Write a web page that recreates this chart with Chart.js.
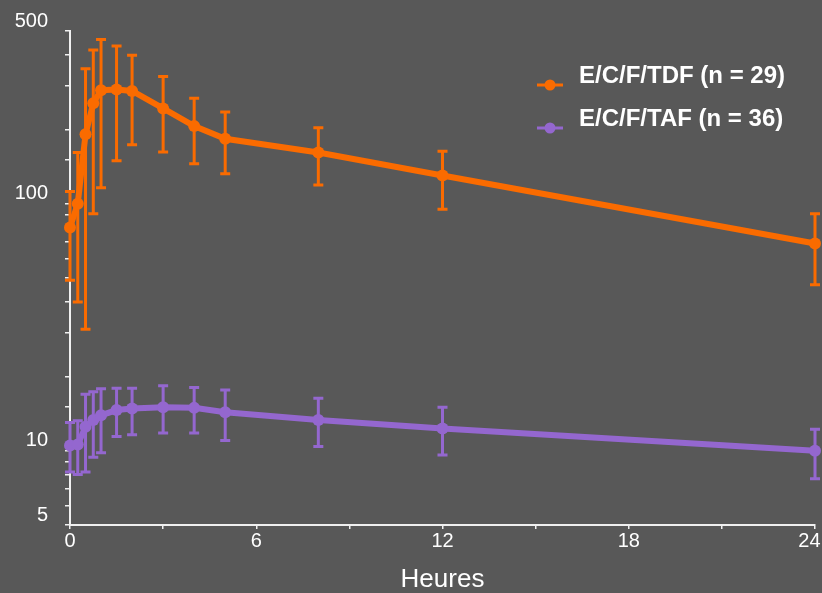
<!DOCTYPE html>
<html>
<head>
<meta charset="utf-8">
<script src="https://cdn.jsdelivr.net/npm/chart.js@4"></script>
<style>
  body { margin:0; background:#585858; }
  #wrap { width:822px; height:593px; position:relative; }
</style>
</head>
<body>
<div id="wrap"><canvas id="myChart"></canvas></div>
<script>
// sampling times (hours)
const hours = [0, 0.25, 0.5, 0.75, 1, 1.5, 2, 3, 4, 5, 8, 12, 24];

// E/C/F/TDF mean and error bar ends
const tdfMean = [80, 100, 191, 255, 288, 290, 286, 243, 206, 183, 161, 130, 69];
const tdfHigh = [112, 161, 352, 419, 462, 435, 399, 327, 267, 235, 203, 163, 91];
const tdfLow  = [49, 40, 31, 91, 116, 149, 173, 162, 145, 132, 119, 95, 47];

// E/C/F/TAF mean and error bar ends
const tafMean = [10.5, 10.6, 12.5, 13.3, 13.9, 14.6, 14.8, 15.0, 14.9, 14.3, 13.3, 12.3, 10.0];
const tafHigh = [13.0, 13.2, 16.9, 17.3, 17.8, 17.9, 17.9, 18.3, 18.0, 17.6, 16.3, 15.0, 12.2];
const tafLow  = [8.2, 8.0, 8.2, 9.4, 9.8, 11.4, 11.6, 11.8, 11.8, 11.0, 10.4, 9.6, 7.7];

const seriesLabels = ['E/C/F/TDF (n = 29)', 'E/C/F/TAF (n = 36)'];
const yLabels = [5, 10, 100, 500];   // only these get a label
const xLabels = [0, 6, 12, 18, 24];

const orange = '#fa6b00';
const purple = '#9467cf';

const lows = [tdfLow, tafLow];
const highs = [tdfHigh, tafHigh];

// small legend marker: line with a dot, drawn a bit under the text
function makeMarker(color) {
    const c = document.createElement('canvas');
    c.width = 28; c.height = 40;
    const g = c.getContext('2d');
    g.strokeStyle = color; g.fillStyle = color; g.lineWidth = 3;
    g.beginPath(); g.moveTo(1, 29); g.lineTo(27, 29); g.stroke();
    g.beginPath(); g.arc(14, 29, 5.5, 0, Math.PI * 2); g.fill();
    return c;
}

// vertical error bars with caps
const errorBars = {
    id: 'errorBars',
    beforeDatasetsDraw(chart) {
        const c = chart.ctx;
        const x = chart.scales.x, y = chart.scales.y;
        chart.data.datasets.forEach((ds, i) => {
            c.save();
            c.strokeStyle = ds.borderColor;
            c.lineWidth = 3;
            hours.forEach((h, j) => {
                const px = x.getPixelForValue(h);
                const lo = y.getPixelForValue(lows[i][j]);
                const hi = y.getPixelForValue(highs[i][j]);
                c.beginPath();
                c.moveTo(px, lo); c.lineTo(px, hi);
                c.moveTo(px - 5, lo); c.lineTo(px + 5, lo);
                c.moveTo(px - 5, hi); c.lineTo(px + 5, hi);
                c.stroke();
            });
            c.restore();
        });
    }
};

// move the legend box into the upper right of the plot
const legendPlace = {
    id: 'legendPlace',
    afterLayout(chart) {
        const lg = chart.legend;
        const w = lg.width;
        lg.left = 514; lg.right = lg.left + w;
        lg.top = 45;
    }
};

Chart.defaults.font.family = '"Liberation Sans", Arial, sans-serif';
Chart.defaults.color = '#ffffff';

const ctx = document.getElementById('myChart').getContext('2d');

const myChart = new Chart(ctx, {
    type: 'line',
    data: {
        datasets: [{
            label: seriesLabels[0],
            data: hours.map((h, i) => ({x: h, y: tdfMean[i]})),
            borderColor: orange,
            backgroundColor: orange,
            borderWidth: 6,
            pointRadius: 6,
            pointBorderWidth: 0,
            pointHoverRadius: 6,
            tension: 0,
            clip: false
        }, {
            label: seriesLabels[1],
            data: hours.map((h, i) => ({x: h, y: tafMean[i]})),
            borderColor: purple,
            backgroundColor: purple,
            borderWidth: 6,
            pointRadius: 6,
            pointBorderWidth: 0,
            pointHoverRadius: 6,
            tension: 0,
            clip: false
        }]
    },
    options: {
        responsive: true,
        maintainAspectRatio: false,
        animation: false,
        layout: { autoPadding: false, padding: { top: 31, right: 7, left: 0, bottom: 0 } },
        scales: {
            x: {
                type: 'linear',
                min: 0, max: 24,
                border: { color: '#f0f0f0', width: 2 },
                grid: { drawOnChartArea: false, color: '#f0f0f0', tickLength: 4, lineWidth: 1.5 },
                ticks: {
                    stepSize: 3,
                    autoSkip: false,
                    maxRotation: 0,
                    padding: 0,
                    font: { size: 20 },
                    // last label pulled in so it stays inside the page
                    callback: v => !xLabels.includes(v) ? '' : (v === 24 ? '24  ' : String(v))
                },
                title: {
                    display: true,
                    text: 'Heures',
                    font: { size: 26, lineHeight: 1 },
                    padding: { top: 0, bottom: 0 }
                },
                afterFit(scale) {
                    scale.height = 68;
                    scale.paddingLeft = 0;
                    scale.paddingRight = 0;
                }
            },
            y: {
                type: 'logarithmic',
                min: 5, max: 500,
                border: { color: '#f0f0f0', width: 2 },
                grid: { drawOnChartArea: false, color: '#f0f0f0', tickLength: 5, lineWidth: 1.5 },
                ticks: {
                    autoSkip: false,
                    align: 'end',
                    padding: 17,
                    font: { size: 20 },
                    callback: v => yLabels.includes(v) ? String(v) : ''
                },
                afterFit(scale) {
                    scale.width = 70;
                    scale.paddingTop = 0;
                    scale.paddingBottom = 0;
                }
            }
        },
        plugins: {
            legend: {
                position: 'chartArea',
                align: 'start',
                labels: {
                    usePointStyle: true,
                    pointStyleWidth: 34,
                    padding: 19,
                    color: '#ffffff',
                    font: { size: 24, weight: 'bold' },
                    generateLabels(chart) {
                        return chart.data.datasets.map((ds, i) => ({
                            text: ds.label,
                            fillStyle: ds.borderColor,
                            strokeStyle: ds.borderColor,
                            fontColor: '#ffffff',
                            pointStyle: makeMarker(ds.borderColor),
                            datasetIndex: i,
                            hidden: false
                        }));
                    }
                }
            },
            tooltip: { enabled: false }
        }
    },
    plugins: [errorBars, legendPlace]
});
</script>
</body>
</html>
